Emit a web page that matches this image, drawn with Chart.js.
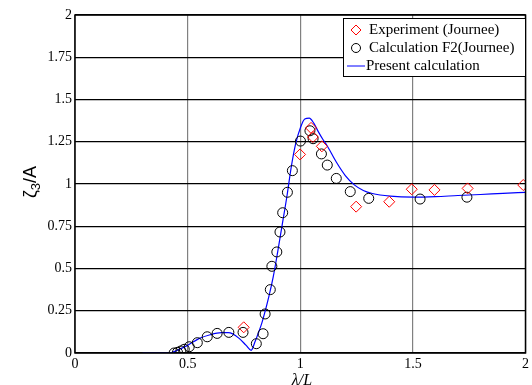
<!DOCTYPE html>
<html>
<head>
<meta charset="utf-8">
<title>heave RAO</title>
<script src="https://cdn.jsdelivr.net/npm/chart.js@4.4.1/dist/chart.umd.min.js"></script>
<style>
  html, body { margin:0; padding:0; background:#fff; }
  #wrap { width:532px; height:385px; }
</style>
</head>
<body>
<div id="wrap"><canvas id="mycanvas" width="532" height="385"></canvas></div>
<script>
// experiment (Journee) - red diamonds
var expX = [0.749, 0.999, 1.048, 1.056, 1.096, 1.248, 1.395, 1.495, 1.596, 1.743, 1.990];
var expY = [0.152, 1.175, 1.332, 1.278, 1.223, 0.866, 0.895, 0.969, 0.965, 0.974, 0.994];

// calculation F2 (Journee) - black circles
var calcX = [0.440, 0.455, 0.470, 0.485, 0.507, 0.543, 0.587, 0.631, 0.683, 0.746,
             0.805, 0.835, 0.844, 0.867, 0.874, 0.896, 0.910, 0.922, 0.943, 0.965,
             1.001, 1.043, 1.057, 1.094, 1.120, 1.160, 1.222, 1.304, 1.532, 1.740];
var calcY = [0.000, 0.004, 0.012, 0.022, 0.037, 0.061, 0.096, 0.116, 0.122, 0.122,
             0.055, 0.114, 0.231, 0.375, 0.513, 0.598, 0.716, 0.830, 0.951, 1.079,
             1.254, 1.315, 1.268, 1.178, 1.112, 1.033, 0.955, 0.915, 0.911, 0.922];

// present calculation - blue line
var presX = [0.30, 0.42, 0.46, 0.50, 0.55, 0.60, 0.65, 0.68, 0.70, 0.73, 0.76, 0.782,
             0.80, 0.83, 0.86, 0.88, 0.90, 0.92, 0.94, 0.96, 0.98, 1.00, 1.02, 1.04,
             1.06, 1.08, 1.10, 1.12, 1.16, 1.20, 1.24, 1.28, 1.32, 1.40, 1.50, 1.60,
             1.70, 1.80, 1.90, 2.00];
var presY = [0.000, 0.000, 0.020, 0.045, 0.085, 0.108, 0.120, 0.120, 0.113, 0.085, 0.045, 0.016,
             0.070, 0.180, 0.330, 0.450, 0.600, 0.760, 0.920, 1.100, 1.240, 1.330, 1.385, 1.390,
             1.360, 1.310, 1.265, 1.225, 1.130, 1.050, 0.995, 0.962, 0.944, 0.928, 0.922, 0.925,
             0.932, 0.938, 0.945, 0.951];

var xTicks = [0, 0.5, 1, 1.5, 2];
var yTicks = [0, 0.25, 0.5, 0.75, 1, 1.25, 1.5, 1.75, 2];

function pts(xs, ys){
  var out = [];
  for (var i = 0; i < xs.length; i++) out.push({x: xs[i], y: ys[i]});
  return out;
}

var serif = "'Liberation Serif', 'Times New Roman', serif";

// frame, legend box and axis titles
var decor = {
  id: 'decor',
  afterDraw: function(chart){
    var c = chart.ctx, a = chart.chartArea;
    c.save();
    c.strokeStyle = '#000';
    c.lineWidth = 1.5;
    c.strokeRect(a.left, a.top, a.right - a.left, a.bottom - a.top);

    // legend
    var lx = 343, ly = 18, lw = 182, lh = 58;
    c.fillStyle = '#fff';
    c.fillRect(lx, ly, lw, lh);
    c.lineWidth = 1;
    c.strokeRect(lx + 0.5, ly + 0.5, lw, lh);
    c.font = '15px ' + serif;
    c.textBaseline = 'middle';
    c.fillStyle = '#000';
    var rows = [30, 48, 66];
    c.fillText('Experiment (Journee)', 369, rows[0]);
    c.fillText('Calculation F2(Journee)', 369, rows[1]);
    c.fillText('Present calculation', 366, rows[2]);
    // symbols
    c.strokeStyle = '#ff0000';
    c.beginPath();
    c.moveTo(356, rows[0] - 5); c.lineTo(361, rows[0]); c.lineTo(356, rows[0] + 5); c.lineTo(351, rows[0]); c.closePath();
    c.stroke();
    c.strokeStyle = '#000';
    c.beginPath(); c.arc(356, rows[1], 4.5, 0, Math.PI * 2); c.stroke();
    c.strokeStyle = '#0000ff';
    c.beginPath(); c.moveTo(347, rows[2]); c.lineTo(365, rows[2]); c.stroke();

    // x title
    c.fillStyle = '#000';
    c.font = 'italic 16px ' + serif;
    c.textAlign = 'center';
    c.textBaseline = 'alphabetic';
    c.fillText('\u03bb/L', 302, 385);

    // y title
    c.translate(30, 182);
    c.rotate(-Math.PI / 2);
    c.textAlign = 'left';
    c.font = '18px "Liberation Sans", Arial, sans-serif';
    var w1 = c.measureText('\u03b6').width;
    c.font = '13px "Liberation Sans", Arial, sans-serif';
    var w2 = c.measureText('3').width;
    c.font = '18px "Liberation Sans", Arial, sans-serif';
    var w3 = c.measureText('/A').width;
    var x0 = -(w1 + w2 + w3) / 2;
    c.fillText('\u03b6', x0, 6);
    c.font = '13px "Liberation Sans", Arial, sans-serif';
    c.fillText('3', x0 + w1, 10);
    c.font = '18px "Liberation Sans", Arial, sans-serif';
    c.fillText('/A', x0 + w1 + w2, 6);
    c.restore();
  }
};

var ctx = document.getElementById('mycanvas');
var chart = new Chart(ctx, {
  type: 'scatter',
  data: {
    datasets: [
      {
        label: 'Present calculation',
        data: pts(presX, presY),
        showLine: true,
        borderColor: '#0000ff',
        borderWidth: 1.2,
        pointRadius: 0,
        cubicInterpolationMode: 'monotone',
        fill: false,
        order: 3
      },
      {
        label: 'Calculation F2(Journee)',
        data: pts(calcX, calcY),
        pointStyle: 'circle',
        pointRadius: 5,
        pointBorderWidth: 1,
        pointBorderColor: '#000',
        pointBackgroundColor: 'rgba(0,0,0,0)',
        showLine: false,
        order: 2
      },
      {
        label: 'Experiment (Journee)',
        data: pts(expX, expY),
        pointStyle: 'rectRot',
        pointRadius: 5.5,
        pointBorderWidth: 1,
        pointBorderColor: '#ff0000',
        pointBackgroundColor: 'rgba(0,0,0,0)',
        showLine: false,
        order: 1
      }
    ]
  },
  options: {
    responsive: false,
    animation: false,
    events: [],
    layout: { autoPadding: false, padding: { top: 15, right: 3, left: 0, bottom: 0 } },
    plugins: { legend: { display: false }, tooltip: { enabled: false } },
    scales: {
      x: {
        type: 'linear',
        min: 0, max: 2,
        afterFit: function(s){ s.height = 32; },
        afterBuildTicks: function(s){ s.ticks = xTicks.map(function(v){ return {value: v}; }); },
        grid: { color: '#808080', lineWidth: 1.2, drawTicks: false },
        border: { display: false },
        ticks: { autoSkip: false, maxRotation: 0, padding: 3, color: '#000', font: { family: serif, size: 14 },
                 callback: function(v){ return String(v); } }
      },
      y: {
        type: 'linear',
        min: 0, max: 2,
        afterFit: function(s){ s.width = 75; },
        afterBuildTicks: function(s){ s.ticks = yTicks.map(function(v){ return {value: v}; }); },
        grid: { color: '#000', lineWidth: 1.2, drawTicks: false },
        border: { display: false },
        ticks: { autoSkip: false, padding: 3, color: '#000', font: { family: serif, size: 14 },
                 callback: function(v){ return String(v); } }
      }
    }
  },
  plugins: [decor]
});
</script>
</body>
</html>
